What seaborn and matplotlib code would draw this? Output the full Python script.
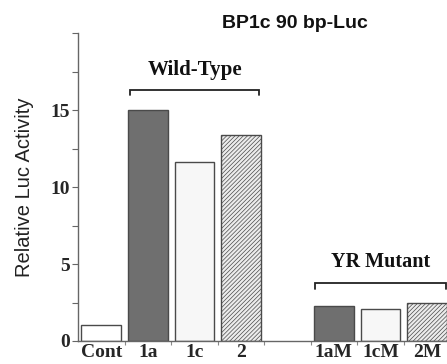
import matplotlib
matplotlib.use("Agg")
import matplotlib.pyplot as plt
import seaborn as sns
import pandas as pd
from matplotlib.ticker import MultipleLocator

categories = ["Cont", "1a", "1c", "2", "1aM", "1cM", "2M"]
values = [1.05, 15.0, 11.6, 13.4, 2.3, 2.1, 2.5]
order = ["Cont", "1a", "1c", "2", " ", "1aM", "1cM", "2M"]
fill_colors = {"Cont": "#ffffff", "1a": "#6f6f6f", "1c": "#f7f7f7", "2": "#ececec",
               "1aM": "#6f6f6f", "1cM": "#f7f7f7", "2M": "#ececec"}
hatched = {"2", "2M"}
y_ticks = [0, 5, 10, 15]

sns.set_theme(style="white")
plt.rcParams["hatch.color"] = "#a8a8a8"
plt.rcParams["hatch.linewidth"] = 0.5

df = pd.DataFrame({"cat": categories, "val": values})

fig = plt.figure(figsize=(4.47, 3.64), dpi=100)
ax = fig.add_axes([0.1745, 0.0632, 0.8255, 0.846])

sns.barplot(data=df, x="cat", y="val", order=order, hue="cat", hue_order=categories,
            palette=fill_colors, legend=False, width=0.85, edgecolor="#4a4a4a",
            linewidth=1.0, saturation=1, ax=ax)

for p in ax.patches:
    cx = p.get_x() + p.get_width() / 2
    idx = int(round(cx))
    if 0 <= idx < len(order) and order[idx] in hatched:
        p.set_hatch("////////")

ax.set_xlim(-0.5, 7.43)
ax.set_ylim(0, 20)
ax.set_yticks(y_ticks)
ax.yaxis.set_minor_locator(MultipleLocator(2.5))
ax.set_xticks(range(len(order)))
ax.set_xticks([i + 0.5 for i in range(len(order) - 1)], minor=True)

serif = ["Liberation Serif", "DejaVu Serif"]
sans = ["Liberation Sans", "DejaVu Sans"]
ax.set_xticklabels(order, family=serif, fontweight="bold", fontsize=14)
ax.set_yticklabels([str(t) for t in y_ticks], family=serif, fontweight="bold", fontsize=14)

ax.tick_params(axis="y", which="major", direction="out", length=4, width=0.8, color="#666666", left=True, pad=2)
ax.tick_params(axis="y", which="minor", direction="out", length=4, width=0.8, color="#666666", left=True)
ax.tick_params(axis="x", which="major", length=0, pad=2)
ax.tick_params(axis="x", which="minor", direction="out", length=3, width=0.8, color="#888888", bottom=True)

for s in ["top", "right"]:
    ax.spines[s].set_visible(False)
for s in ["left", "bottom"]:
    ax.spines[s].set_color("#666666")
    ax.spines[s].set_linewidth(1.0)

ax.set_xlabel("")
ax.set_ylabel("Relative Luc Activity", family=sans, fontsize=14.5, color="#222222")
ax.yaxis.set_label_coords(-0.12, 0.5)

# brackets
def bracket(x0, x1, y, drop, label, ty, size):
    ax.plot([x0, x0, x1, x1], [y - drop, y, y, y - drop], color="#222222", lw=1.3,
            solid_joinstyle="miter", clip_on=False)
    ax.text((x0 + x1) / 2, ty, label, ha="center", va="center", family=serif,
            fontweight="bold", fontsize=size, color="#111111")

bracket(1 - 0.38, 3 + 0.4, 16.3, 0.35, "Wild-Type", 17.6, 15)
bracket(5 - 0.4, 7 + 0.4, 3.75, 0.35, "YR Mutant", 5.1, 14.5)

fig.text(0.66, 0.935, "BP1c 90 bp-Luc", ha="center", va="center", family=sans,
         fontweight="bold", fontsize=14, color="#111111")

fig.savefig("out.png", dpi=100)
